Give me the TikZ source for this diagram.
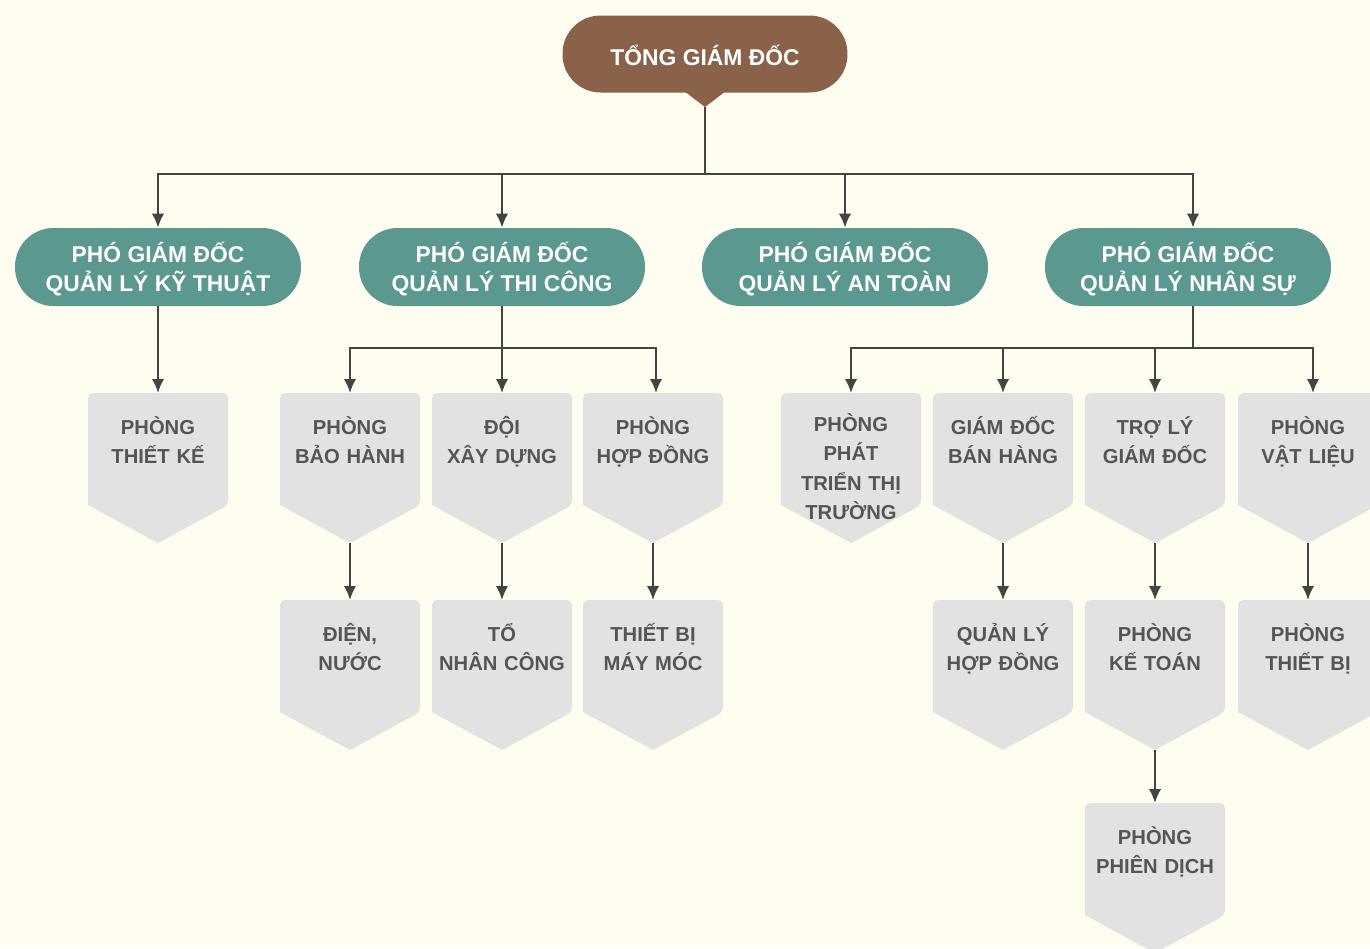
\documentclass[tikz,border=0pt]{standalone}
\usepackage{fontspec}
\setmainfont{Liberation Sans}
\usetikzlibrary{arrows.meta}
\definecolor{bgcream}{HTML}{FEFDF0}
\definecolor{ceobrown}{HTML}{8A6249}
\definecolor{vpteal}{HTML}{5A9890}
\definecolor{deptgray}{HTML}{E2E2E2}
\definecolor{textgray}{HTML}{555555}
\definecolor{linegray}{HTML}{444444}
% gray department box: [text drop], name, x, top y, text
\newcommand{\dept}[5][41]{%
\fill[deptgray] (#3-70,#4+112) [rounded corners=3pt] -- (#3-70,#4) -- (#3+70,#4) -- (#3+70,#4+112) [sharp corners] -- (#3,#4+150) -- cycle;
\node[depttext] (#2) at (#3,#4+#1) {#5};
\coordinate (#2 top) at (#3,#4);
\coordinate (#2 tip) at (#3,#4+150);
}
\newcommand{\vptext}[2]{\rule{0pt}{14.3pt}#1\\#2\rule[-3pt]{0pt}{3pt}}
\begin{document}
\begin{tikzpicture}[x=0.02cm,y=-0.02cm,
  ceo/.style={fill=ceobrown, text=white, rounded corners=0.76cm, minimum width=5.7cm, minimum height=1.54cm, inner sep=0pt, text height=13.5pt, text depth=0pt, font=\fontsize{13}{17}\selectfont\bfseries},
  vp/.style={fill=vpteal, text=white, rounded corners=0.77cm, minimum width=5.72cm, minimum height=1.56cm, inner sep=0pt, align=center, font=\fontsize{13}{17}\selectfont\bfseries},
  depttext/.style={text=textgray, anchor=base, text width=2.7cm, align=center, inner sep=0pt, font=\fontsize{11.5}{16.8}\selectfont\bfseries},
  link/.style={draw=linegray, line width=1.3pt, -{Latex[length=0.28cm,width=0.25cm]}}]
\useasboundingbox (0,0) rectangle (1370,948);
\fill[bgcream] (0,0) rectangle (1370,948);

\node[ceo] (tgd) at (705,54) {TỔNG GIÁM ĐỐC};
\fill[ceobrown] (684,91) -- (705,107) -- (726,91) -- cycle;
\coordinate (tgd tip) at (705,107);

\node[vp] (pkt) at (158,267) {\vptext{PHÓ GIÁM ĐỐC}{QUẢN LÝ KỸ THUẬT}};
\node[vp] (ptc) at (502,267) {\vptext{PHÓ GIÁM ĐỐC}{QUẢN LÝ THI CÔNG}};
\node[vp] (pat) at (845,267) {\vptext{PHÓ GIÁM ĐỐC}{QUẢN LÝ AN TOÀN}};
\node[vp] (pns) at (1188,267) {\vptext{PHÓ GIÁM ĐỐC}{QUẢN LÝ NHÂN SỰ}};

\dept{tk}{158}{393}{PHÒNG\\THIẾT KẾ}
\dept{bh}{350}{393}{PHÒNG\\BẢO HÀNH}
\dept{xd}{502}{393}{ĐỘI\\XÂY DỰNG}
\dept{hd}{653}{393}{PHÒNG\\HỢP ĐỒNG}
\dept[38]{pt}{851}{393}{PHÒNG\\PHÁT\\TRIỂN THỊ\\TRƯỜNG}
\dept{gd}{1003}{393}{GIÁM ĐỐC\\BÁN HÀNG}
\dept{tl}{1155}{393}{TRỢ LÝ\\GIÁM ĐỐC}
\dept{vl}{1308}{393}{PHÒNG\\VẬT LIỆU}

\dept{dn}{350}{600}{ĐIỆN,\\NƯỚC}
\dept{nc}{502}{600}{TỔ\\NHÂN CÔNG}
\dept{mm}{653}{600}{THIẾT BỊ\\MÁY MÓC}
\dept{ql}{1003}{600}{QUẢN LÝ\\HỢP ĐỒNG}
\dept{kt}{1155}{600}{PHÒNG\\KẾ TOÁN}
\dept{tb}{1308}{600}{PHÒNG\\THIẾT BỊ}

\dept{pd}{1155}{803}{PHÒNG\\PHIÊN DỊCH}

\draw[link] (tgd tip) -- ++(0,67) -| (pkt.north);
\draw[link] (tgd tip) -- ++(0,67) -| (ptc.north);
\draw[link] (tgd tip) -- ++(0,67) -| (pat.north);
\draw[link] (tgd tip) -- ++(0,67) -| ([xshift=0.1cm]pns.north);

\draw[link] (pkt.south) -- (tk top);
\draw[link] (ptc.south) -- ++(0,42) -| (bh top);
\draw[link] (ptc.south) -- ++(0,42) -| (xd top);
\draw[link] (ptc.south) -- ++(0,42) -| ([xshift=0.06cm]hd top);
\draw[link] ([xshift=0.1cm]pns.south) -- ++(0,42) -| (pt top);
\draw[link] ([xshift=0.1cm]pns.south) -- ++(0,42) -| (gd top);
\draw[link] ([xshift=0.1cm]pns.south) -- ++(0,42) -| (tl top);
\draw[link] ([xshift=0.1cm]pns.south) -- ++(0,42) -| ([xshift=0.1cm]vl top);

\draw[link] (bh tip) -- (dn top);
\draw[link] (xd tip) -- (nc top);
\draw[link] (hd tip) -- (mm top);
\draw[link] (gd tip) -- (ql top);
\draw[link] (tl tip) -- (kt top);
\draw[link] (vl tip) -- (tb top);
\draw[link] (kt tip) -- (pd top);
\end{tikzpicture}
\end{document}
